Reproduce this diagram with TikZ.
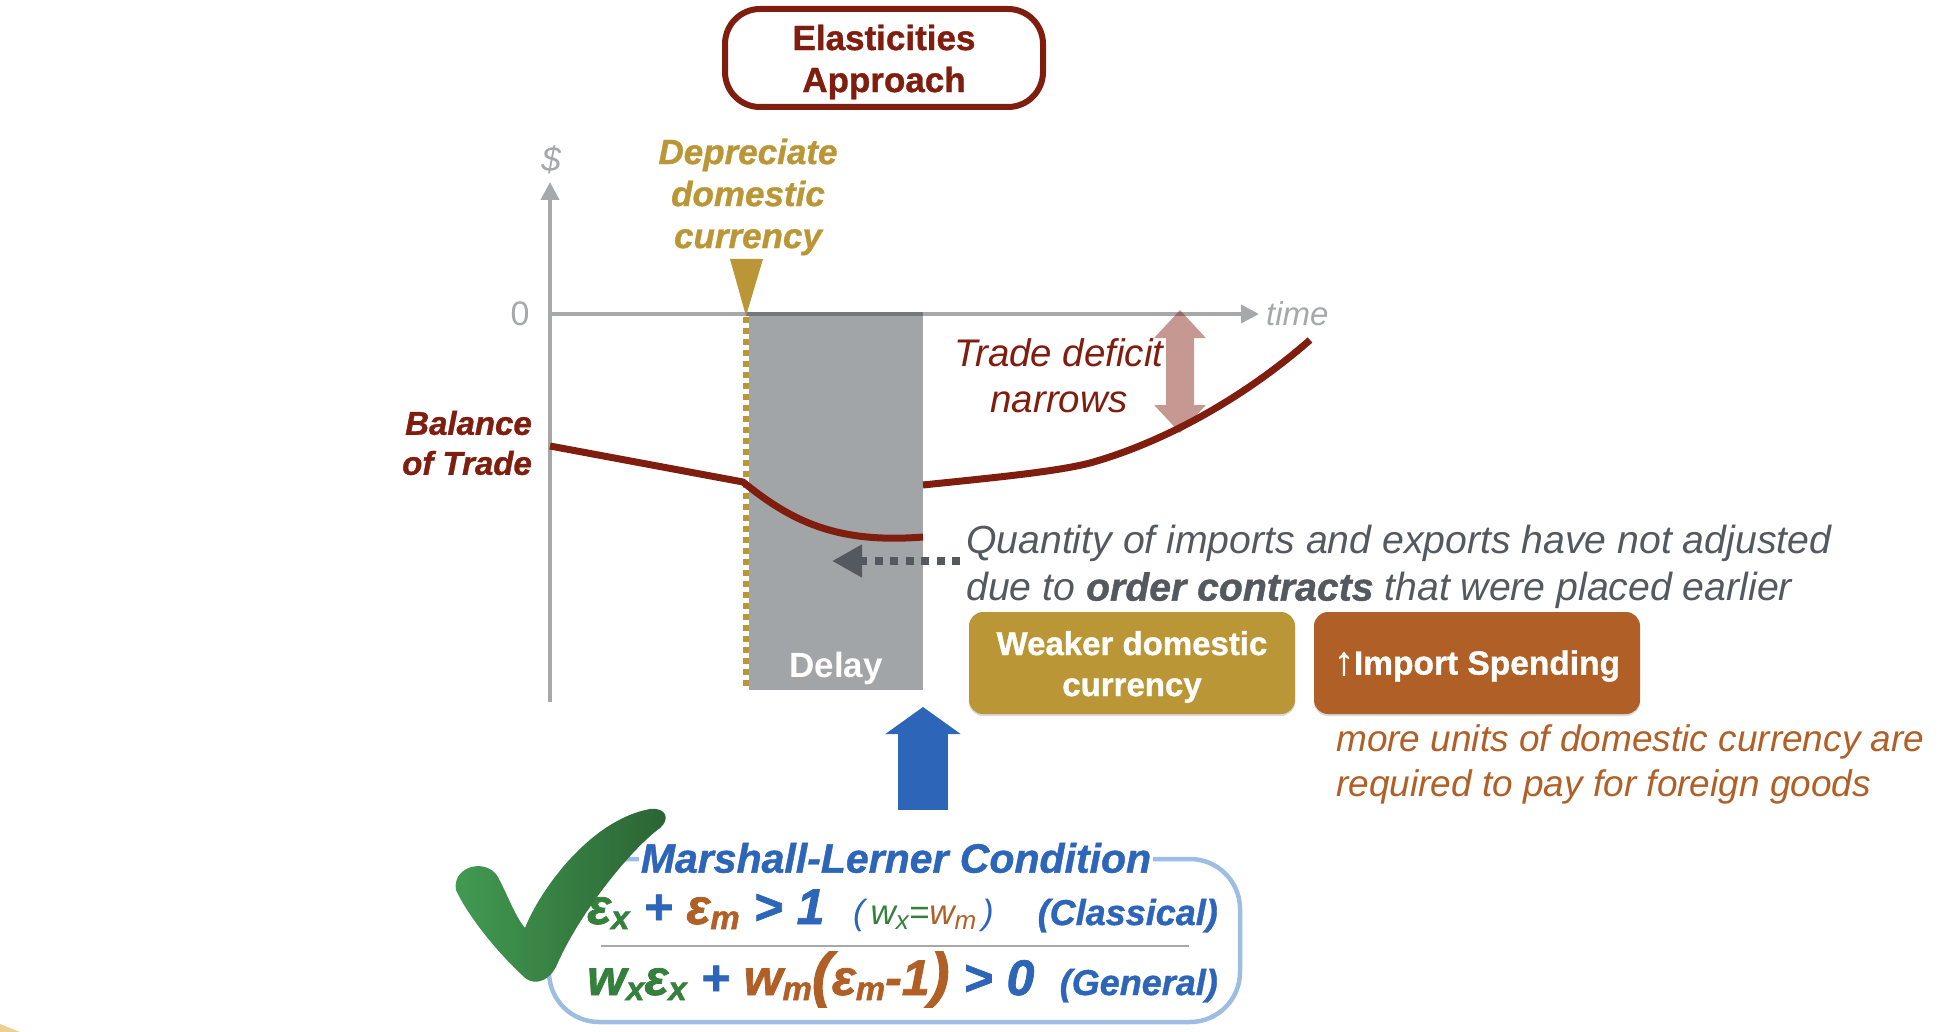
\documentclass[tikz,border=0pt]{standalone}
\usepackage{fontspec}
\setmainfont{Liberation Sans}
\usetikzlibrary{arrows.meta,shadows}
\definecolor{darkred}{HTML}{7F1D0E}
\definecolor{gold}{HTML}{BA9636}
\definecolor{rust}{HTML}{B06027}
\definecolor{axisgray}{HTML}{A6A8A9}
\definecolor{delaygray}{HTML}{A2A5A7}
\definecolor{delayedge}{HTML}{73787C}
\definecolor{slate}{HTML}{54585F}
\definecolor{mlblue}{HTML}{2D65B8}
\definecolor{mlpale}{HTML}{9DBDE3}
\definecolor{mlgreen}{HTML}{35803C}
\definecolor{checklight}{HTML}{429B52}
\definecolor{checkdark}{HTML}{2B6334}
\definecolor{scrap}{HTML}{EDD08F}
\newcommand\fsz[2]{\fontsize{#1}{#2}\selectfont}
\newcommand\hv{\addfontfeature{FakeBold=1}}
\newcommand\sbs[1]{\raisebox{-5pt}{\fsz{33}{33}#1}}
\newcommand\sbl[1]{\raisebox{-5pt}{\fsz{26}{26}#1}}
\newcommand\Gx{{\color{mlgreen}ε\sbs{x}}}
\newcommand\Rm{{\color{rust}ε\sbs{m}}}
\tikzset{
    axisline/.style={axisgray,line width=4pt,-{Triangle[length=18pt,width=18pt]}},
    btbig/.style={inner sep=0pt,font=\fsz{35}{42}\bfseries\hv,align=center},
    chip/.style={rounded corners=14pt,minimum width=326pt,minimum height=102pt,inner sep=0pt,
        drop shadow={shadow xshift=0pt,shadow yshift=-2pt,opacity=0.3}},
    chiptext/.style={inner sep=0pt,text=white,align=center,font=\fsz{33}{41}\bfseries\hv},
    note/.style={inner sep=0pt,align=left,font=\fsz{37}{45}\itshape},
    formula/.style={inner sep=0pt,text=mlblue,font=\fsz{50}{50}\bfseries\itshape\addfontfeature{FakeBold=1.5}},
    tag/.style={inner sep=0pt,text=mlblue,font=\fsz{36}{36}\bfseries\itshape\hv},
    btcurve/.style={darkred,line width=7pt},
}
\begin{document}
\begin{tikzpicture}[x=1pt,y=-1pt]
    \useasboundingbox (0,0) rectangle (1938,1032);
    \pgfmathsetmacro\xdep{746}
    \pgfmathsetmacro\xdelay{923}
    \pgfmathsetmacro\yzero{314}
    \coordinate (O) at (550,\yzero);
    \coordinate (Ytop) at (550,182);
    \coordinate (Ybot) at (550,702);
    \coordinate (Xtip) at (1259,\yzero);
    \coordinate (Dep) at (\xdep,\yzero);
    \coordinate (DepBot) at (\xdep,690);
    % corner scrap
    \fill[scrap] (0,1024) -- (20,1032) -- (0,1032) -- cycle;
    % title
    \node[draw=darkred,line width=6pt,rounded corners=35pt,minimum width=318pt,minimum height=98pt] (title) at (884,58) {};
    \node[btbig,text=darkred] (titletext) at (884,62) {Elasticities\\Approach};
    % axes
    \draw[axisline] (Ybot) -- (Ytop);
    \draw[axisline] (O) -- (Xtip);
    \node[inner sep=0pt,text=axisgray,font=\fsz{35}{35}\itshape] (dollar) at (551,160) {\$};
    \node[inner sep=0pt,text=axisgray,font=\fsz{34}{34}] (zero) at (520,314) {0};
    \node[inner sep=0pt,text=axisgray,anchor=west,font=\fsz{33}{33}\itshape] (time) at (1266,314) {time};
    % delay band
    \fill[delaygray] (749,\yzero) rectangle (\xdelay,690);
    \draw[delayedge,line width=4pt] (Dep) -- (\xdelay,\yzero);
    \draw[gold,line width=6pt,dash pattern=on 6pt off 5pt] (\xdep,317) -- (DepBot);
    \node[inner sep=0pt,text=white,font=\fsz{35}{35}\bfseries] (delay) at (836,668) {Delay};
    % depreciation marker
    \node[btbig,text=gold,font=\fsz{35}{42}\bfseries\itshape\hv] (dep) at (748,197) {Depreciate\\domestic\\currency};
    \fill[gold] (730,259) -- (763,259) -- (\xdep,316) -- cycle;
    % narrowing
    \coordinate (NarTop) at (1180,310);
    \coordinate (NarBot) at (1180,433);
    \begin{scope}[transparency group,opacity=0.45]
        \draw[darkred,line width=28pt,{Triangle[length=28pt,width=50pt]}-{Triangle[length=28pt,width=50pt]}] (NarTop) -- (NarBot);
    \end{scope}
    \node[note,text=darkred,align=center,font=\fsz{38.5}{46}\itshape] (narrow) at (1059,376) {Trade deficit\\narrows};
    % balance of trade
    \draw[btcurve] (550,446) -- (743,482) .. controls (790,520) and (835,544) .. (923,537);
    \draw[btcurve] (923,485) .. controls (990,478) and (1055,472) .. (1090,463) .. controls (1165,442) and (1245,397) .. (1310,340);
    \node[btbig,text=darkred,anchor=east,align=right,font=\fsz{33}{40}\bfseries\itshape\hv] (bot) at (532,443) {Balance\\of Trade};
    % contracts note
    \coordinate (NoteEnd) at (960,561);
    \coordinate (NoteTip) at (832,561);
    \draw[slate,line width=8pt,dash pattern=on 8pt off 7.5pt,-{Triangle[length=30pt,width=31pt]}] (NoteEnd) -- (NoteTip);
    \node[note,text=slate,anchor=west,font=\fsz{39.2}{47}\itshape] (contracts) at (966,567) {Quantity of imports and exports have not adjusted\\due to {\bfseries\hv order contracts} that were placed earlier};
    % chips
    \node[chip,fill=gold] (weak) at (1132,663) {};
    \node[chiptext] (weaktext) at (1132,667) {Weaker domestic\\currency};
    \node[chip,fill=rust] (spend) at (1477,663) {};
    \node[chiptext,font=\fsz{33.5}{41}\bfseries\hv] (spendtext) at (1477,666) {{\fsz{40}{41}↑}Import Spending};
    \node[note,text=rust,anchor=west] (units) at (1336,764) {more units of domestic currency are\\required to pay for foreign goods};
    % up arrow
    \coordinate (UpBot) at (923,810);
    \coordinate (UpTip) at (923,707);
    \draw[mlblue,line width=50pt,-{Triangle[length=27pt,width=74pt]}] (UpBot) -- (UpTip);
    % condition
    \draw[mlpale,line width=4.5pt,rounded corners=50pt] (549,859) rectangle (1240,1022);
    \node[inner sep=2pt,fill=white,text=mlblue,font=\fsz{41}{41}\bfseries\itshape\hv] (ml) at (896,858) {Marshall-Lerner Condition};
    \node[formula,anchor=base west] (classic) at (587,924) {\Gx{} + \Rm{} > 1};
    \node[inner sep=0pt,anchor=base west,text=mlblue,font=\fsz{35}{35}\itshape] (equal) at (853,924) {(\,{\color{mlgreen}w\sbl{x}=}{\color{rust}w\sbl{m}}\,)};
    \node[tag,anchor=base east] (cl) at (1218,925) {(Classical)};
    \draw[axisgray,line width=2pt] (601,946) -- (1189,946);
    \node[formula,anchor=base west] (general) at (587,995) {{\color{mlgreen}w\sbs{x}}\Gx{} + {\color{rust}w\sbs{m}{\fsz{60}{60}(}ε\sbs{m}-1{\fsz{60}{60})}} > 0};
    \node[tag,anchor=base east] (ge) at (1218,995) {(General)};
    % check mark
    \shade[left color=checklight,right color=checkdark]
        (456,890) .. controls (452,868) and (482,858) .. (496,874)
        .. controls (505,888) and (514,915) .. (525,928)
        .. controls (540,890) and (590,820) .. (650,809)
        .. controls (667,807) and (670,820) .. (660,828)
        .. controls (630,850) and (578,915) .. (556,967)
        .. controls (546,985) and (530,985) .. (522,975)
        .. controls (490,945) and (465,910) .. (456,890) -- cycle;
\end{tikzpicture}
\end{document}
